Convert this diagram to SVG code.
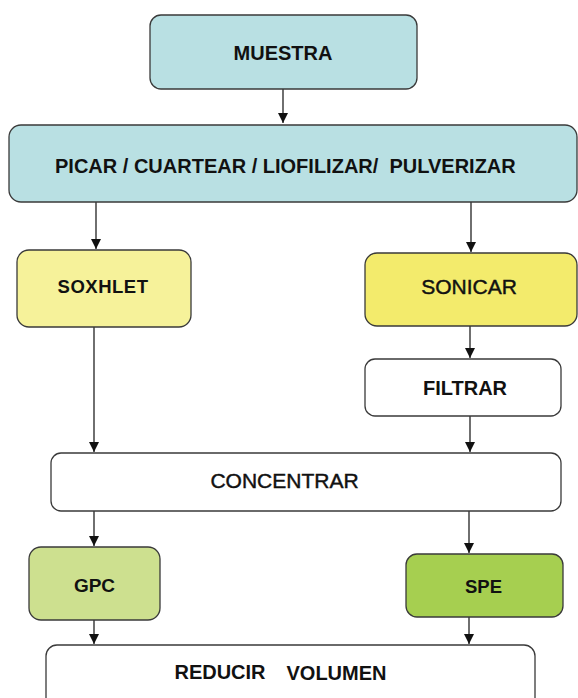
<svg xmlns="http://www.w3.org/2000/svg" width="578" height="698" viewBox="0 0 578 698">
<style>
.box{stroke:#3a3a3a;stroke-width:1.3}
.t{font-family:"Liberation Sans",Arial,sans-serif;fill:#111;text-anchor:middle}
.b{font-weight:bold}
.m{stroke:#111;stroke-width:0.45}
.cn line{stroke:#222;stroke-width:1.3}
</style>
<defs>
<marker id="ah" markerUnits="userSpaceOnUse" markerWidth="10" markerHeight="11" refX="10" refY="5" orient="auto">
<path d="M0,0 L10,5 L0,10 z" fill="#111"/>
</marker>
</defs>
<rect width="578" height="698" fill="#fff"/>
<g class="cn">
<line x1="283" y1="89" x2="283" y2="123" marker-end="url(#ah)"/>
<line x1="96" y1="202" x2="96" y2="249" marker-end="url(#ah)"/>
<line x1="471" y1="202" x2="471" y2="252" marker-end="url(#ah)"/>
<line x1="94" y1="327" x2="94" y2="452" marker-end="url(#ah)"/>
<line x1="470" y1="326" x2="470" y2="358" marker-end="url(#ah)"/>
<line x1="470" y1="416" x2="470" y2="452" marker-end="url(#ah)"/>
<line x1="94" y1="511" x2="94" y2="546" marker-end="url(#ah)"/>
<line x1="469" y1="511" x2="469" y2="553" marker-end="url(#ah)"/>
<line x1="94" y1="620" x2="94" y2="644" marker-end="url(#ah)"/>
<line x1="469" y1="617" x2="469" y2="644" marker-end="url(#ah)"/>
</g>
<g id="muestra">
<rect class="box" x="150" y="15" width="267" height="74" rx="11" fill="#b9e0e3"/>
<text class="t b" x="283" y="60" font-size="20">MUESTRA</text>
</g>
<g id="picar">
<rect class="box" x="9" y="125" width="568" height="77" rx="12" fill="#b9e0e3"/>
<text class="t b" x="55" y="173" font-size="20" style="text-anchor:start">PICAR / CUARTEAR / LIOFILIZAR/&#160; PULVERIZAR</text>
</g>
<g id="soxhlet">
<rect class="box" x="17" y="250" width="174" height="77" rx="12" fill="#f6f29a"/>
<text class="t b" x="103" y="293" font-size="18.5" letter-spacing="0.5">SOXHLET</text>
</g>
<g id="sonicar">
<rect class="box" x="365" y="253" width="212" height="73" rx="12" fill="#f3eb6c"/>
<text class="t m" x="469" y="294" font-size="21">SONICAR</text>
</g>
<g id="filtrar">
<rect class="box" x="365" y="359" width="196" height="57" rx="10" fill="#fff"/>
<text class="t b" x="465" y="395" font-size="20">FILTRAR</text>
</g>
<g id="concentrar">
<rect class="box" x="51" y="453" width="510" height="58" rx="10" fill="#fff"/>
<text class="t m" x="284.5" y="488" font-size="21">CONCENTRAR</text>
</g>
<g id="gpc">
<rect class="box" x="29" y="547" width="131" height="73" rx="12" fill="#cde08f"/>
<text class="t b" x="94.5" y="592" font-size="19">GPC</text>
</g>
<g id="spe">
<rect class="box" x="406" y="554" width="157" height="63" rx="11" fill="#a6cf50"/>
<text class="t b" x="483.5" y="593" font-size="18.5" fill="#15220c">SPE</text>
</g>
<g id="reducir">
<rect class="box" x="46" y="645" width="489" height="70" rx="11" fill="#fff"/>
<text class="t b" x="220" y="679" font-size="20">REDUCIR</text>
<text class="t b" x="336.5" y="680" font-size="20">VOLUMEN</text>
</g>
</svg>
